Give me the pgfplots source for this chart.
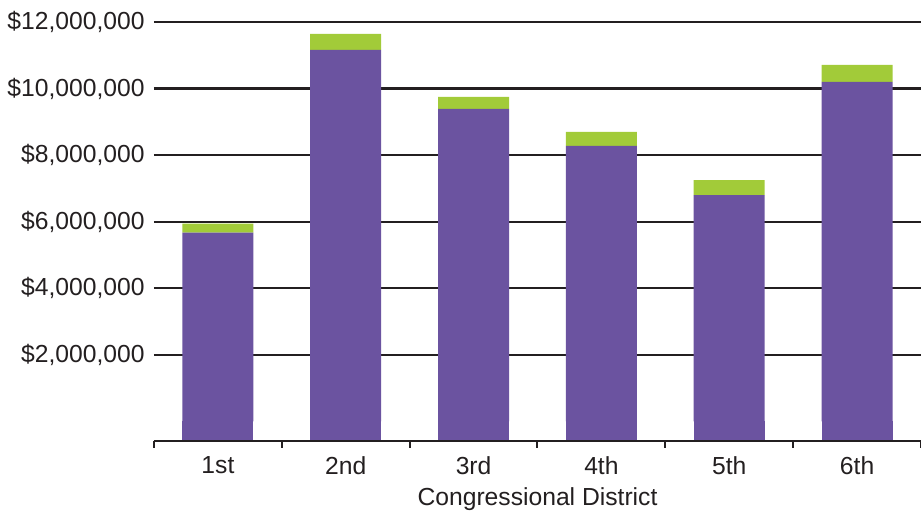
\documentclass[border=0pt]{standalone}
\usepackage{pgfplots}
\pgfplotsset{compat=1.18}
\usepackage{pgfplotstable}
\usepackage{fontspec}
\setmainfont{Liberation Sans}
\definecolor{barpurple}{RGB}{107,83,160}
\definecolor{bargreen}{RGB}{162,203,57}
\definecolor{ink}{RGB}{35,31,32}

\pgfplotstableread{
idx purple green
0 5670000 270000
1 11160000 485000
2 9390000 360000
3 8280000 420000
4 6800000 450000
5 10200000 510000
}\datatable

\begin{document}
\begin{tikzpicture}
\pgfplotsset{common/.style={width=575.25pt,height=330.75pt,scale only axis,
  xmin=-0.5,xmax=5.5,ymin=-586000,ymax=12660000,
  scaled y ticks=false, scaled x ticks=false}}
% lower part of the bars, below zero, down to the axis line
\begin{axis}[common, hide axis, ybar, bar width=52.25pt, bar shift=0pt]
\addplot[fill=barpurple, draw=barpurple, line width=1pt] coordinates {(0,-650000)(1,-650000)(2,-650000)(3,-650000)(4,-650000)(5,-650000)};
\end{axis}
\begin{axis}[common, ybar stacked, bar width=53.25pt,
  separate axis lines,
  axis x line*=bottom, axis y line*=left,
  y axis line style={draw=none},
  x axis line style={ink, line width=1.5pt, -},
  ytick={2000000,4000000,6000000,8000000,10000000,12000000},
  yticklabels={{\$2,000,000},{\$4,000,000},{\$6,000,000},{\$8,000,000},{\$10,000,000},{\$12,000,000}},
  yticklabel style={xshift=1.5pt},
  ymajorgrids,
  major grid style={ink, line width=1.6pt},
  ytick style={draw=none},
  xtick={-0.5,0.5,1.5,2.5,3.5,4.5,5.5},
  xticklabels={},
  major tick length=5pt,
  xtick style={ink, line width=1.5pt},
  tick align=outside,
  extra x ticks={0,1,2,3,4,5},
  extra x tick labels={1st,2nd,3rd,4th,5th,6th},
  extra x tick style={major tick length=0pt, tick style={draw=none},
    xticklabel style={yshift=-8pt}},
  ticklabel style={font=\fontsize{18.5}{22}\selectfont, text=ink},
  xlabel={Congressional District},
  xlabel style={font=\fontsize{18.5}{22}\selectfont, text=ink, yshift=2pt},
]
\addplot[fill=barpurple, draw=none] table[x=idx,y=purple]{\datatable};
\addplot[fill=bargreen, draw=none] table[x=idx,y=green]{\datatable};
\end{axis}
\pgfresetboundingbox
\path[use as bounding box] (-115.5pt,-54pt) rectangle (575.25pt,330.75pt);
\end{tikzpicture}
\end{document}
